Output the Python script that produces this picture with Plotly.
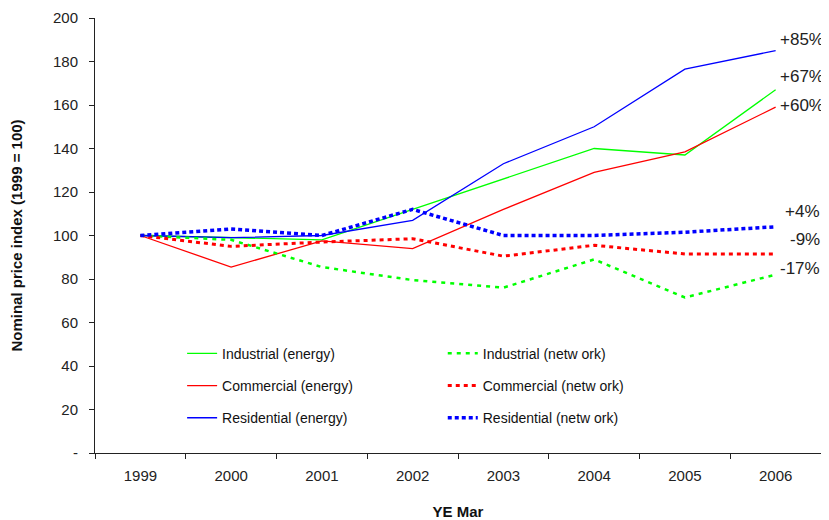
import plotly.graph_objects as go

years = ["1999", "2000", "2001", "2002", "2003", "2004", "2005", "2006"]
ind_energy = [100, 99, 98, 112, 126, 140, 137, 167]
com_energy = [100, 85.5, 97.5, 94, 112, 129, 138.5, 159]
res_energy = [100, 99, 100, 107, 133, 150, 176.5, 185]
ind_network = [100, 98, 85.5, 79.5, 76, 89, 71.5, 82]
com_network = [100, 95, 97, 98.5, 90.5, 95.5, 91.5, 91.5]
res_network = [100, 103, 100, 112, 100, 100, 101.5, 104]

ytick_vals = [0, 20, 40, 60, 80, 100, 120, 140, 160, 180, 200]
ytick_text = ["-", "20", "40", "60", "80", "100", "120", "140", "160", "180", "200"]

end_labels = ["+85%", "+67%", "+60%", "+4%", "-9%", "-17%"]
end_label_y = [190, 173, 160, 111, 98, 85]
end_label_shift = [5, 5, 5, 1, 1, 1]

GREEN, RED, BLUE = "#00FF00", "#FF0000", "#0000FF"
FONT = "Liberation Sans, Arial, sans-serif"

fig = go.Figure()
series = [
    ("Industrial (energy)", ind_energy, GREEN, None, 1.3, "legend", "g1"),
    ("Commercial (energy)", com_energy, RED, None, 1.3, "legend", "g2"),
    ("Residential (energy)", res_energy, BLUE, None, 1.3, "legend", "g3"),
    ("Industrial (netw ork)", ind_network, GREEN, "4px,5px", 2.5, "legend2", "g4"),
    ("Commercial (netw ork)", com_network, RED, "4px,4px", 3, "legend2", "g5"),
    ("Residential (netw ork)", res_network, BLUE, "4px,3px", 3.5, "legend2", "g6"),
]
for name, vals, color, dash, width, leg, grp in series:
    fig.add_trace(go.Scatter(
        x=years, y=vals, mode="lines", name=name,
        line=dict(color=color, width=width, dash=dash if dash else "solid"),
        legend=leg, legendgroup=grp,
    ))

for txt, yv, sh in zip(end_labels, end_label_y, end_label_shift):
    fig.add_annotation(
        x=1, xref="paper", y=yv, yref="y", text=txt, showarrow=False,
        xanchor="right", xshift=sh, font=dict(family=FONT, size=17, color="#222"),
    )

legend_common = dict(
    bgcolor="rgba(0,0,0,0)", font=dict(family=FONT, size=14, color="#111"),
    tracegroupgap=11, yanchor="top", xanchor="left", traceorder="grouped",
)
fig.update_layout(
    width=821, height=512,
    margin=dict(l=87, r=8, t=10, b=67),
    paper_bgcolor="white", plot_bgcolor="white",
    font=dict(family=FONT, size=15, color="#222"),
    legend=dict(x=0.12, y=0.265, **legend_common),
    legend2=dict(x=0.479, y=0.265, **legend_common),
    xaxis=dict(
        type="category", range=[-0.5, 7.5], showline=True, linecolor="#222",
        linewidth=1, ticks="outside", tickson="boundaries", ticklen=5,
        tickcolor="#222", showgrid=False, zeroline=False, automargin=False,
        ticklabelstandoff=9,
        tickfont=dict(family=FONT, size=15, color="#222"),
        title=dict(text="<b>YE Mar</b>", font=dict(family=FONT, size=15, color="#111"), standoff=31),
    ),
    yaxis=dict(
        range=[0, 200], tickvals=ytick_vals, ticktext=ytick_text,
        showline=True, linecolor="#222", linewidth=1, ticks="outside",
        ticklen=5, tickcolor="#222", showgrid=False, zeroline=False, automargin=False,
        ticklabelstandoff=8,
        tickfont=dict(family=FONT, size=15, color="#222"),
        title=dict(text="<b>Nominal price index (1999 = 100)</b>", font=dict(family=FONT, size=15, color="#111"), standoff=37),
    ),
)

fig.write_html("out.html")
